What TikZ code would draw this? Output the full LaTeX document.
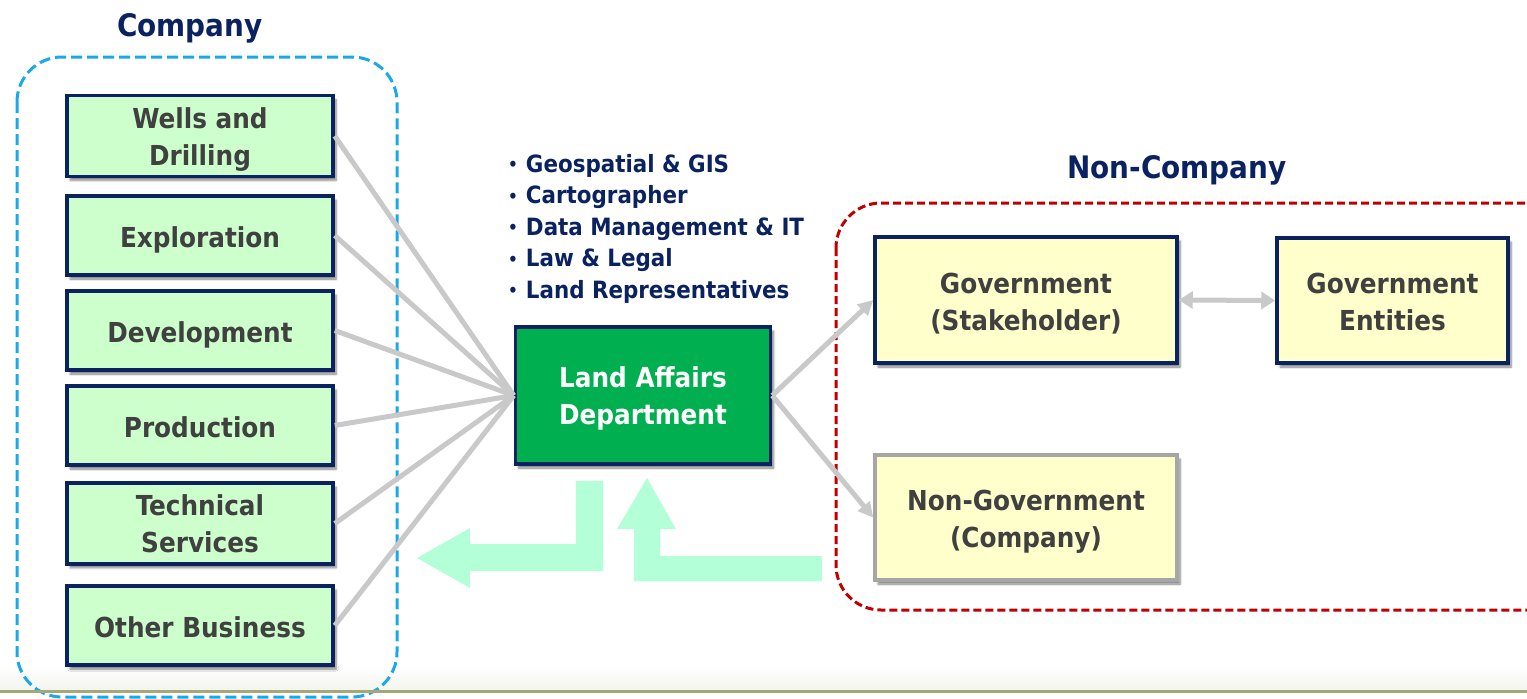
\documentclass[tikz,border=0pt]{standalone}
\usepackage{fontspec}
\setmainfont{DejaVuSansCondensed}[Extension=.ttf, UprightFont=*, BoldFont=*-Bold]
\usetikzlibrary{shadows.blur,arrows.meta}
\definecolor{navy}{HTML}{0B2260}
\definecolor{greenfill}{HTML}{CCFFCC}
\definecolor{yellowfill}{HTML}{FFFFCC}
\definecolor{ladgreen}{HTML}{00B050}
\definecolor{txtgray}{HTML}{404040}
\definecolor{conngray}{HTML}{C9C9C9}
\definecolor{mint}{HTML}{B3FFD7}
\definecolor{bluedash}{HTML}{1AA8E8}
\definecolor{reddash}{HTML}{C00000}
\definecolor{boxgray}{HTML}{A6A6A6}
\definecolor{olivel}{HTML}{A3A878}
\newcommand\boxfont{\bfseries\fontsize{27.5}{37}\selectfont}
\newcommand\titlefont{\bfseries\fontsize{31}{36}\selectfont}
\newcommand\bulfont{\bfseries\fontsize{23.8}{31.5}\selectfont}
\newcommand\bul{\raisebox{1.5pt}{\fontsize{17}{17}\selectfont •}\hspace{8pt}}
\tikzset{
  shad/.style={blur shadow={shadow xshift=3pt, shadow yshift=-4pt, shadow blur steps=6, shadow opacity=50}},
  anybox/.style={line width=3.5pt, text=txtgray, font=\boxfont, align=center, shad},
  oneline/.style={execute at begin node={\rule[-7pt]{0pt}{37pt}}},
  twoline/.style={execute at begin node={\rule[-8pt]{0pt}{#1}}},
  twoline/.default=74pt,
  gbox/.style={anybox, draw=navy, fill=greenfill, minimum width=266pt, minimum height=79pt},
  ybox/.style={anybox, draw=navy, fill=yellowfill, minimum height=125pt, twoline=76pt},
  ladbox/.style={anybox, draw=navy, fill=ladgreen, minimum width=255pt, minimum height=137pt, text=white, twoline},
  titletext/.style={text=navy, font=\titlefont},
  conn/.style={draw=conngray, line width=5pt},
  tip/.style={-{Triangle[length=15pt,width=15pt]}},
  mintarrow/.style={fill=mint, draw=none},
}
\begin{document}
\begin{tikzpicture}[x=1pt,y=-1pt]
\useasboundingbox (0,0) rectangle (1527,699);
\clip (0,0) rectangle (1527,699);
% faint band above the bottom rule
\shade[top color=white, bottom color=olivel!12] (0,666) rectangle (1527,690);
% group frames
\draw[bluedash, line width=3pt, dash pattern=on 11pt off 5pt, rounded corners=45pt] (17,57) rectangle (397,697);
\draw[reddash, line width=3pt, dash pattern=on 8pt off 4pt, rounded corners=45pt] (836,203) rectangle (1575,610);
% titles
\node[titletext] (tcomp) at (190,28) {Company};
\node[titletext] (tnon) at (1177,170) {Non-Company};
% company boxes
\node[gbox, twoline, minimum height=80pt] (wd) at (200,136) {Wells and\\Drilling};
\node[gbox, oneline] (ex) at (200,235.5) {Exploration};
\node[gbox, oneline] (dv) at (200,330.5) {Development};
\node[gbox, oneline] (pr) at (200,425.5) {Production};
\node[gbox, twoline] (ts) at (200,523.5) {Technical\\Services};
\node[gbox, oneline] (ob) at (200,625.5) {Other Business};
% land affairs
\node[ladbox] (la) at (643,395.5) {Land Affairs\\Department};
% bullets
\node[anchor=west, align=left, text=navy, font=\bulfont, inner sep=0pt] (bl) at (508,228.5) {\bul Geospatial \& GIS\\\bul Cartographer\\\bul Data Management \& IT\\\bul Law \& Legal\\\bul Land Representatives};
% non-company boxes
\node[ybox, minimum width=302pt, minimum height=126pt] (gs) at (1026,300) {Government\\(Stakeholder)};
\node[ybox, minimum width=231pt] (ge) at (1392.5,300.5) {Government\\Entities};
\node[ybox, draw=boxgray, minimum width=302pt] (ng) at (1026,517.5) {Non-Government\\(Company)};
% connectors
\foreach \n in {wd,ex,dv,pr,ts,ob} \draw[conn] (\n.east) -- (la.west);
\draw[conn, tip] (la.east) -- (gs.west);
\draw[conn, tip] (la.east) -- (ng.west);
\draw[conn, {Triangle[length=14pt,width=17pt]}-{Triangle[length=14pt,width=17pt]}] (gs.east) -- (ge.west);
% mint flow arrows
\fill[mintarrow] (576,481) -- (603,481) -- (603,571) -- (470,571) -- (470,588) -- (417,558) -- (470,528) -- (470,544) -- (576,544) -- cycle;
\fill[mintarrow] (822,556) -- (822,581) -- (634,581) -- (634,529) -- (617,529) -- (647,478) -- (676,529) -- (660,529) -- (660,556) -- cycle;
% bottom rule
\draw[olivel, line width=3pt] (0,691) -- (1527,691);
\end{tikzpicture}
\end{document}
